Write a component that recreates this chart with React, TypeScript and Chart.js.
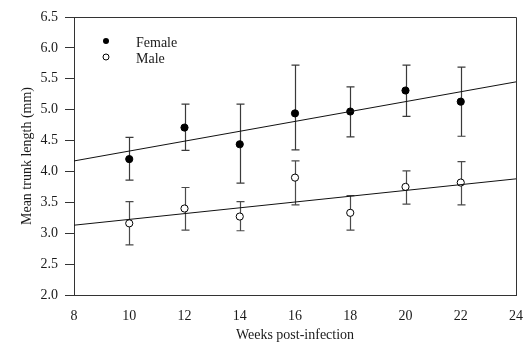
import React, { useEffect, useRef } from "react";
import { Chart, registerables } from "chart.js";

Chart.register(...registerables);

const weeks = [10, 12, 14, 16, 18, 20, 22];
const femaleMean = [4.2, 4.71, 4.44, 4.94, 4.97, 5.31, 5.13];
const femaleUpper = [4.55, 5.09, 5.09, 5.72, 5.37, 5.72, 5.69];
const femaleLower = [3.86, 4.34, 3.81, 4.35, 4.56, 4.89, 4.57];
const maleMean = [3.16, 3.4, 3.27, 3.9, 3.33, 3.75, 3.82];
const maleUpper = [3.51, 3.74, 3.51, 4.17, 3.61, 4.01, 4.16];
const maleLower = [2.81, 3.05, 3.04, 3.46, 3.05, 3.47, 3.46];
const trendX = [8, 24];
const femaleTrend = [4.17, 5.45];
const maleTrend = [3.13, 3.88];
const xTickValues = [8, 10, 12, 14, 16, 18, 20, 22, 24];
const yTickValues = [2.0, 2.5, 3.0, 3.5, 4.0, 4.5, 5.0, 5.5, 6.0, 6.5];
const legendLabels = ["Female", "Male"];
const xTitle = "Weeks post-infection";
const yTitle = "Mean trunk length (mm)";

const FONT = "'Liberation Serif', 'DejaVu Serif', serif";
const INK = "#1a1a1a";

const errorBarPlugin = {
  id: "errorBars",
  beforeDatasetsDraw(chart: any) {
    const { ctx, scales } = chart;
    const xs = scales.x;
    const ys = scales.y;
    const cap = 4;
    const draw = (upper: number[], lower: number[], color: string) => {
      ctx.save();
      ctx.strokeStyle = color;
      ctx.lineWidth = 1.2;
      weeks.forEach((w, i) => {
        const x = Math.round(xs.getPixelForValue(w)) + 0.5;
        const yt = ys.getPixelForValue(upper[i]);
        const yb = ys.getPixelForValue(lower[i]);
        ctx.beginPath();
        ctx.moveTo(x, yt);
        ctx.lineTo(x, yb);
        ctx.moveTo(x - cap, yt);
        ctx.lineTo(x + cap, yt);
        ctx.moveTo(x - cap, yb);
        ctx.lineTo(x + cap, yb);
        ctx.stroke();
      });
      ctx.restore();
    };
    draw(femaleUpper, femaleLower, "#3a3a3a");
    draw(maleUpper, maleLower, "#4a4a4a");
  },
};

const framePlugin = {
  id: "frame",
  afterDraw(chart: any) {
    const { ctx, chartArea } = chart;
    ctx.save();
    ctx.strokeStyle = "#333";
    ctx.lineWidth = 1;
    ctx.beginPath();
    ctx.moveTo(chartArea.left - 5, Math.round(chartArea.top) + 0.5);
    ctx.lineTo(Math.round(chartArea.right) + 0.5, Math.round(chartArea.top) + 0.5);
    ctx.lineTo(Math.round(chartArea.right) + 0.5, chartArea.bottom);
    ctx.stroke();

    // legend
    const lx = 106;
    const tx = 136;
    const rows = [41, 57];
    ctx.font = `14px ${FONT}`;
    ctx.textBaseline = "middle";
    ctx.textAlign = "left";
    rows.forEach((y, i) => {
      ctx.beginPath();
      ctx.arc(lx, y, 3, 0, Math.PI * 2);
      if (i === 0) {
        ctx.fillStyle = "#000";
        ctx.fill();
      } else {
        ctx.fillStyle = "#fff";
        ctx.fill();
        ctx.strokeStyle = "#000";
        ctx.lineWidth = 1;
        ctx.stroke();
      }
      ctx.fillStyle = INK;
      ctx.fillText(legendLabels[i], tx, y + 2);
    });
    ctx.restore();
  },
};

export default function App() {
  const ref = useRef<HTMLCanvasElement | null>(null);

  useEffect(() => {
    if (!ref.current) return;
    const chart = new Chart(ref.current, {
      type: "scatter",
      data: {
        datasets: [
          {
            type: "line",
            label: "Female trend",
            data: trendX.map((x, i) => ({ x, y: femaleTrend[i] })),
            borderColor: "#111",
            borderWidth: 1,
            pointRadius: 0,
            fill: false,
          },
          {
            type: "line",
            label: "Male trend",
            data: trendX.map((x, i) => ({ x, y: maleTrend[i] })),
            borderColor: "#111",
            borderWidth: 1,
            pointRadius: 0,
            fill: false,
          },
          {
            label: legendLabels[0],
            data: weeks.map((w, i) => ({ x: w, y: femaleMean[i] })),
            backgroundColor: "#000",
            borderColor: "#000",
            borderWidth: 1,
            pointRadius: 3.6,
          },
          {
            label: legendLabels[1],
            data: weeks.map((w, i) => ({ x: w, y: maleMean[i] })),
            backgroundColor: "#fff",
            borderColor: "#000",
            borderWidth: 1,
            pointRadius: 3.6,
          },
        ],
      } as any,
      options: {
        animation: false,
        responsive: false,
        devicePixelRatio: 1,
        layout: { padding: { top: 17, right: 15, left: 0, bottom: 0 } },
        plugins: {
          legend: { display: false },
          tooltip: { enabled: false },
        },
        scales: {
          x: {
            type: "linear",
            min: 8,
            max: 24,
            afterFit: (s: any) => {
              s.height = 54;
              s.paddingLeft = 0;
              s.paddingRight = 0;
            },
            afterBuildTicks: (s: any) => {
              s.ticks = xTickValues.map((v) => ({ value: v }));
            },
            ticks: {
              padding: 13,
              color: INK,
              font: { family: FONT, size: 14 },
              maxRotation: 0,
              autoSkip: false,
            },
            grid: { drawOnChartArea: false, drawTicks: false },
            border: { color: "#333", width: 1 },
            title: {
              display: true,
              text: xTitle,
              color: INK,
              font: { family: FONT, size: 14 },
              padding: { top: 0, bottom: 5 },
            },
          },
          y: {
            type: "linear",
            min: 2,
            max: 6.5,
            afterFit: (s: any) => {
              s.width = 74;
              s.paddingTop = 0;
              s.paddingBottom = 0;
            },
            afterBuildTicks: (s: any) => {
              s.ticks = yTickValues.map((v) => ({ value: v }));
            },
            ticks: {
              padding: 7,
              color: INK,
              font: { family: FONT, size: 14 },
              callback: (v: any) => Number(v).toFixed(1),
              autoSkip: false,
            },
            grid: {
              drawOnChartArea: false,
              drawTicks: true,
              tickLength: 9,
              color: "#333",
            },
            border: { color: "#333", width: 1 },
            title: {
              display: true,
              text: yTitle,
              color: INK,
              font: { family: FONT, size: 14 },
              padding: { top: 19, bottom: 0 },
            },
          },
        },
      } as any,
      plugins: [errorBarPlugin, framePlugin],
    });
    return () => chart.destroy();
  }, []);

  return (
    <div style={{ position: "absolute", left: 0, top: 0, width: 531, height: 349, background: "#fff" }}>
      <canvas ref={ref} width={531} height={349} style={{ display: "block" }} />
    </div>
  );
}
